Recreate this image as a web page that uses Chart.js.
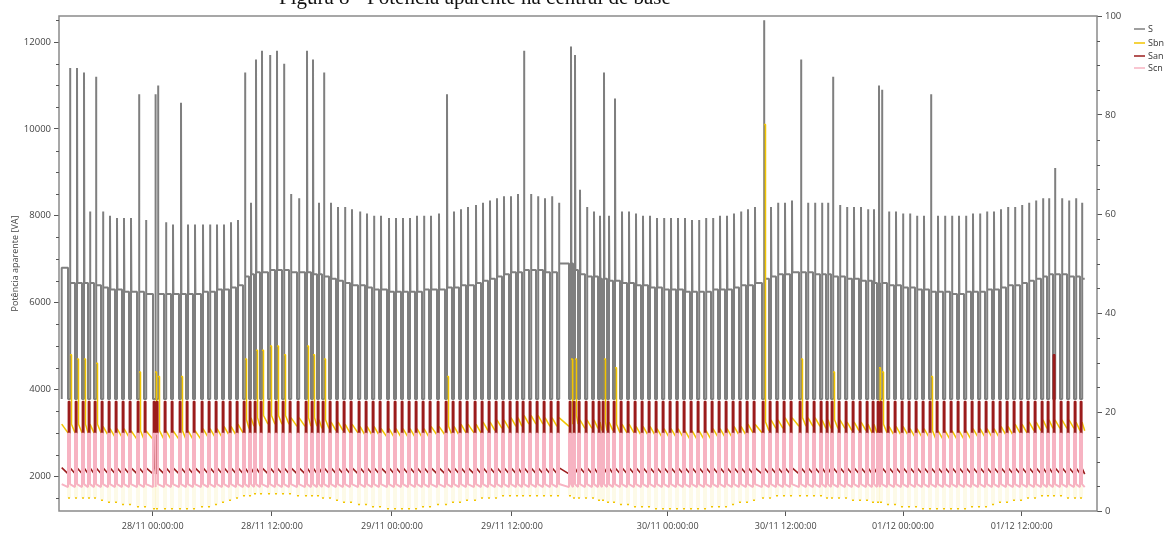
<!DOCTYPE html>
<html>
<head>
<meta charset="utf-8">
<script src="https://cdn.jsdelivr.net/npm/chart.js@4"></script>
<style>
  body { margin: 0; background: #fff; }
  canvas { display: block; }
</style>
</head>
<body>
<canvas id="chart" width="1168" height="534"></canvas>
<script>
// x axis is in sample-hours, 0 = 28/11 00:00 (the axis has a jump after 29/11 12:00)
const tickPos = [0, 11.93, 23.93, 35.93, 51.5, 63.3, 75.03, 86.9];
const tickLabels = ['28/11 00:00:00', '28/11 12:00:00', '29/11 00:00:00', '29/11 12:00:00',
                    '30/11 00:00:00', '30/11 12:00:00', '01/12 00:00:00', '01/12 12:00:00'];
const leftTicks = [2000, 4000, 6000, 8000, 10000, 12000];
const rightTicks = [0, 20, 40, 60, 80, 100];

// one entry per compressor cycle (restart instant)
const cycleX = [-8.27,-7.57,-6.87,-6.27,-5.67,-4.97,-4.27,-3.57,-2.87,-2.17,
  -1.37,-0.67,0.23,0.53,1.33,2.03,2.83,3.53,4.23,5.03,
  5.73,6.43,7.13,7.83,8.53,9.23,9.83,10.33,10.93,11.73,
  12.43,13.13,13.83,14.63,15.43,16.03,16.63,17.13,17.83,18.53,
  19.23,19.93,20.73,21.43,22.13,22.83,23.63,24.33,25.03,25.73,
  26.43,27.13,27.83,28.63,29.43,30.13,30.83,31.53,32.33,33.03,
  33.73,34.43,35.13,35.83,36.53,37.13,37.83,38.53,39.23,39.93,
  40.63,41.83,42.23,42.73,43.43,44.13,44.73,45.13,45.63,46.23,
  46.93,47.63,48.33,49.03,49.73,50.43,51.13,51.83,52.53,53.23,
  53.93,54.63,55.33,56.03,56.73,57.43,58.13,58.83,59.53,60.23,
  61.13,61.83,62.53,63.23,63.93,64.83,65.53,66.23,66.93,67.53,
  68.03,68.73,69.43,70.13,70.83,71.53,72.13,72.63,72.93,73.63,
  74.33,75.03,75.73,76.43,77.13,77.83,78.53,79.23,79.93,80.63,
  81.33,82.03,82.73,83.43,84.13,84.83,85.53,86.23,86.93,87.63,
  88.33,89.03,89.63,90.23,90.93,91.63,92.33,92.93];

// S: peak at restart and plateau after it [VA]
const sPeak = [11400,11400,11300,8100,11200,8100,8000,7950,7950,7950,
  10800,7900,10800,11000,7850,7800,10600,7800,7800,7800,
  7800,7800,7800,7850,7900,11300,8300,11600,11800,11700,
  11800,11500,8500,8400,11800,11600,8300,11300,8300,8200,
  8200,8150,8100,8050,8000,8000,7950,7950,7950,7950,
  8000,8000,8000,8050,10800,8100,8150,8200,8250,8300,
  8350,8400,8450,8450,8500,11800,8500,8450,8400,8450,
  8300,11900,11700,8600,8200,8100,8000,11300,8000,10700,
  8100,8100,8050,8000,8000,7950,7950,7950,7950,7950,
  7900,7900,7950,7950,8000,8000,8050,8100,8150,8200,
  12500,8200,8300,8300,8350,11600,8300,8300,8300,8300,
  11200,8250,8200,8200,8200,8150,8150,11000,10900,8100,
  8100,8050,8050,8000,8000,10800,8000,8000,8000,8000,
  8000,8050,8050,8100,8100,8150,8200,8200,8250,8300,
  8350,8400,8400,9100,8400,8350,8400,8300];
const sHigh = [6450,6450,6450,6450,6400,
  6350,6300,6300,6250,6250,6250,6200,6200,6200,6200,6200,6200,6200,6200,6250,6250,6300,6300,6350,6400,
  6600,6650,6700,6700,6750,6750,6750,6700,6700,6700,6650,6650,6600,
  6550,6500,6450,6400,6400,6350,6300,6300,6250,6250,6250,6250,6250,6300,6300,6300,
  6350,6350,6400,6400,6450,6500,6550,6600,6650,6700,6700,6750,6750,6750,6700,6700,6900,
  6900,6750,6650,
  6600,6600,6550,6550,6500,6500,6450,6450,6400,6400,6350,6350,6300,6300,6300,6250,6250,6250,6250,6300,6300,6300,6350,6400,6400,6450,
  6550,6600,6650,6650,6700,6700,6700,6650,6650,6650,6600,6600,6550,6550,6500,6500,6450,
  6450,6450,6400,6400,6350,6350,6300,6300,6250,6250,6250,6200,6200,6250,6250,6250,6300,6300,
  6350,6400,6400,6450,6500,6550,6600,6650,6650,6650,6600,6600,6550];
const sStart = 6800;
const sOff = 3780;

// Sbn: running level, short dip and the spikes on some restarts
const sbnLevel = [3100,3100,3100,3100,3100,
  3050,3000,3000,3000,2950,2950,2950,2950,2950,2950,2950,2950,2950,2950,3000,3000,3000,3050,3050,3100,
  3200,3250,3250,3300,3300,3300,3300,3250,3250,3250,3250,3200,3200,
  3150,3150,3100,3100,3050,3050,3050,3000,3000,3000,3000,3000,3000,3000,3050,3050,
  3050,3050,3100,3100,3100,3150,3150,3200,3200,3250,3250,3300,3300,3300,3250,3250,3250,
  3300,3300,3200,
  3200,3200,3150,3150,3150,3100,3100,3100,3050,3050,3050,3000,3000,3000,3000,2950,2950,2950,2950,3000,3000,3000,3050,3050,3100,3100,
  3150,3200,3200,3250,3250,3250,3250,3250,3200,3200,3200,3200,3150,3150,3150,3100,3100,
  3100,3100,3050,3050,3050,3000,3000,3000,2950,2950,2950,2950,2950,2950,3000,3000,3000,3000,
  3050,3050,3100,3100,3150,3150,3200,3200,3200,3200,3200,3150,3150];
const sbnDip = [1500,1500,1500,1500,1500,
  1450,1400,1400,1350,1350,1300,1300,1250,1250,1250,1250,1250,1250,1250,1300,1300,1350,1400,1450,1500,
  1550,1550,1600,1600,1600,1600,1600,1600,1550,1550,1550,1550,1500,
  1500,1450,1400,1400,1350,1350,1300,1300,1250,1250,1250,1250,1250,1300,1300,1350,
  1350,1400,1400,1450,1450,1500,1500,1500,1550,1550,1550,1550,1550,1550,1550,1550,1550,
  1550,1500,1500,
  1500,1500,1450,1450,1400,1400,1350,1350,1300,1300,1300,1250,1250,1250,1250,1250,1250,1250,1250,1300,1300,1300,1350,1400,1400,1450,
  1500,1500,1550,1550,1550,1550,1550,1550,1550,1500,1500,1500,1500,1450,1450,1450,1400,
  1400,1400,1350,1350,1300,1300,1300,1250,1250,1250,1250,1250,1250,1250,1300,1300,1300,1350,
  1400,1400,1450,1450,1500,1500,1550,1550,1550,1550,1500,1500,1500];
const sbnSpikeCycle = [0,1,2,4,10,12,13,16,25,27,28,29,30,31,34,35,37,54,71,72,77,79,100,105,110,117,118,125];
const sbnSpikeValue = [4800,4700,4700,4600,4400,4400,4300,4300,4700,4900,4900,5000,5000,4800,5000,4800,4700,4300,4700,4700,4700,4500,10100,4700,4400,4500,4400,4300];

// San and Scn levels
const sanOn = 3720;
const sanOff = [2200, 2050];
const sanSpikeCycle = [143];
const sanSpikeValue = [4800];
const scnOn = 2980;
const scnOff = [1820, 1750];

const xMin = -9.37, xMax = 94.43;
const dataStart = -9.1, dataEnd = 93.2;
const dOff = 0.2;   // length of the off/on step in each cycle

const sbnSpike = new Map(sbnSpikeCycle.map((c, i) => [c, sbnSpikeValue[i]]));
const sanSpike = new Map(sanSpikeCycle.map((c, i) => [c, sanSpikeValue[i]]));

// build the stepped traces
const sData = [{x: dataStart, y: sOff}, {x: dataStart, y: sStart}];
const sbnData = [{x: dataStart, y: sbnLevel[0] + 100}];
const sanData = [{x: dataStart, y: sanOff[0]}];
const scnData = [{x: dataStart, y: scnOff[0]}];
let prevHigh = sStart;
cycleX.forEach((t, i) => {
  const t0 = t - dOff;
  sData.push({x: t0, y: prevHigh}, {x: t0, y: sOff}, {x: t, y: sOff},
             {x: t, y: sPeak[i]}, {x: t + 0.04, y: sHigh[i]});
  prevHigh = sHigh[i];

  const lvPrev = sbnLevel[Math.max(i - 1, 0)];
  sbnData.push({x: t0, y: lvPrev - 100}, {x: t0, y: sbnDip[i]}, {x: t, y: sbnDip[i]});
  if (sbnSpike.has(i)) {
    const p = sbnSpike.get(i);
    sbnData.push({x: t, y: p}, {x: t + 0.15, y: p}, {x: t + 0.15, y: sbnLevel[i] + 100});
  } else {
    sbnData.push({x: t, y: sbnLevel[i] + 100});
  }

  const top = sanSpike.has(i) ? sanSpike.get(i) : sanOn;
  sanData.push({x: t0 + 0.04, y: sanOff[1]}, {x: t0 + 0.04, y: top}, {x: t - 0.02, y: top}, {x: t - 0.02, y: sanOff[0]});

  scnData.push({x: t0, y: scnOff[1]}, {x: t0, y: scnOn}, {x: t, y: scnOn}, {x: t, y: scnOff[0]});
});
sData.push({x: dataEnd, y: prevHigh});
sbnData.push({x: dataEnd, y: sbnLevel[sbnLevel.length - 1] - 100});
sanData.push({x: dataEnd, y: sanOff[1]});
scnData.push({x: dataEnd, y: scnOff[1]});

const font = 'Open Sans';
const tickColor = '#555';

const chartFrame = {
  id: 'chartFrame',
  afterDraw(chart) {
    const {ctx, chartArea: a, scales} = chart;
    ctx.save();
    ctx.strokeStyle = '#8a8a8a';
    ctx.lineWidth = 1.5;
    ctx.strokeRect(a.left, a.top, a.right - a.left, a.bottom - a.top);
    // minor ticks
    ctx.strokeStyle = tickColor;
    ctx.lineWidth = 1;
    ctx.beginPath();
    for (let v = 1500; v <= 12500; v += 500) {
      if (v % 2000 === 0) continue;
      const py = Math.round(scales.y.getPixelForValue(v)) + 0.5;
      ctx.moveTo(a.left - 3, py); ctx.lineTo(a.left, py);
    }
    for (let v = 5; v < 100; v += 5) {
      if (v % 20 === 0) continue;
      const py = Math.round(scales.y2.getPixelForValue(v)) + 0.5;
      ctx.moveTo(a.right, py); ctx.lineTo(a.right + 3, py);
    }
    ctx.stroke();

    // title, cut by the top of the picture
    ctx.fillStyle = '#111';
    ctx.font = '21px "Liberation Serif"';
    ctx.textBaseline = 'alphabetic';
    ctx.textAlign = 'left';
    ctx.fillText('Figura 8 - Potência aparente na central de base', 279, 4);

    // legend
    ctx.font = '9px "' + font + '"';
    ctx.textBaseline = 'middle';
    const ly = [29, 43, 56, 68];
    chart.data.datasets.forEach((ds, i) => {
      ctx.strokeStyle = ds.borderColor;
      ctx.lineWidth = 1.5;
      ctx.beginPath();
      ctx.moveTo(1134, ly[i]); ctx.lineTo(1145, ly[i]);
      ctx.stroke();
      ctx.fillStyle = '#333';
      ctx.fillText(ds.label, 1148, ly[i]);
    });
    ctx.restore();
  }
};

const line = (label, data, color, order, width) => ({
  label, data, order,
  borderColor: color,
  borderWidth: width,
  borderJoinStyle: 'bevel',
  pointRadius: 0,
  tension: 0,
  fill: false
});

const sbnSet = line('Sbn', sbnData, '#f2c500', 3, 1.5);
// the fast drops of Sbn are only faintly visible below the pink trace
sbnSet.segment = {
  borderColor: c => (c.p0.parsed.x === c.p1.parsed.x && Math.min(c.p0.parsed.y, c.p1.parsed.y) < 1700)
    ? 'rgba(242,197,0,0.12)' : undefined
};

new Chart(document.getElementById('chart'), {
  type: 'line',
  data: {
    datasets: [
      line('S', sData, '#7f7f7f', 4, 2),
      sbnSet,
      line('San', sanData, '#9b1c1c', 2, 1.6),
      line('Scn', scnData, '#f7b3c2', 1, 2)
    ]
  },
  options: {
    responsive: false,
    animation: false,
    devicePixelRatio: 1,
    layout: { padding: { top: 16, left: 0, right: 0, bottom: 0 } },
    plugins: { legend: { display: false }, tooltip: { enabled: false } },
    scales: {
      x: {
        type: 'linear', min: xMin, max: xMax,
        afterBuildTicks: s => { s.ticks = tickPos.map(v => ({value: v})); },
        afterFit: s => { s.height = 23; },
        ticks: {
          autoSkip: false, maxRotation: 0, padding: 5, color: '#444',
          font: {family: font, size: 9},
          callback: (v, i) => tickLabels[i]
        },
        grid: { drawOnChartArea: false, tickLength: 5, color: tickColor },
        border: { display: false }
      },
      y: {
        position: 'left', min: 1200, max: 12600,
        afterBuildTicks: s => { s.ticks = leftTicks.map(v => ({value: v})); },
        afterFit: s => { s.width = 59; },
        ticks: { padding: 3, color: '#444', font: {family: font, size: 9.5}, callback: v => String(v) },
        grid: { drawOnChartArea: false, tickLength: 5, color: tickColor },
        border: { display: false },
        title: {
          display: true, text: 'Potência aparente [VA]', color: '#444',
          font: {family: font, size: 9}, padding: {top: 10, bottom: 0}
        }
      },
      y2: {
        position: 'right', min: 0, max: 100,
        afterBuildTicks: s => { s.ticks = rightTicks.map(v => ({value: v})); },
        afterFit: s => { s.width = 71; },
        ticks: { padding: 3, color: '#444', font: {family: font, size: 9.5}, callback: v => String(v) },
        grid: { drawOnChartArea: false, tickLength: 5, color: tickColor },
        border: { display: false }
      }
    }
  },
  plugins: [chartFrame]
});
</script>
</body>
</html>
